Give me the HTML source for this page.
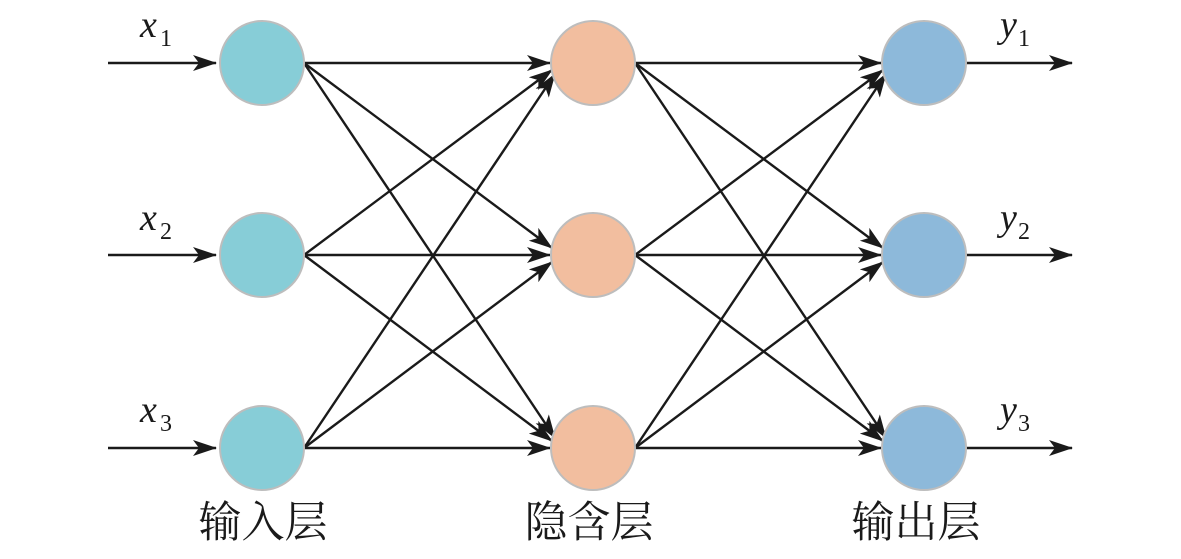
<!DOCTYPE html>
<html><head><meta charset="utf-8"><style>
html,body{margin:0;padding:0;background:#fff;}
</style></head><body>
<svg width="1181" height="554" viewBox="0 0 1181 554" xmlns="http://www.w3.org/2000/svg">
<defs>
<marker id="b" viewBox="0 0 24 16" refX="23" refY="8" markerWidth="24" markerHeight="16" markerUnits="userSpaceOnUse" orient="auto">
<path d="M0,0 L24,8 L0,16 L6,8 Z" fill="#1a1a1a"/>
</marker>
</defs>
<g stroke="#1a1a1a" stroke-width="2.4" fill="none">
<line x1="108" y1="63" x2="216" y2="63" marker-end="url(#b)"/>
<line x1="108" y1="255" x2="216" y2="255" marker-end="url(#b)"/>
<line x1="108" y1="448" x2="216" y2="448" marker-end="url(#b)"/>
<line x1="966" y1="63" x2="1072" y2="63" marker-end="url(#b)"/>
<line x1="966" y1="255" x2="1072" y2="255" marker-end="url(#b)"/>
<line x1="966" y1="448" x2="1072" y2="448" marker-end="url(#b)"/>
<line x1="304" y1="63" x2="550" y2="63" marker-end="url(#b)"/>
<line x1="304" y1="63" x2="552" y2="248" marker-end="url(#b)"/>
<line x1="304" y1="63" x2="555" y2="438" marker-end="url(#b)"/>
<line x1="304" y1="255" x2="552" y2="70" marker-end="url(#b)"/>
<line x1="304" y1="255" x2="550" y2="255" marker-end="url(#b)"/>
<line x1="304" y1="255" x2="552" y2="441" marker-end="url(#b)"/>
<line x1="304" y1="448" x2="555" y2="74" marker-end="url(#b)"/>
<line x1="304" y1="448" x2="552" y2="262" marker-end="url(#b)"/>
<line x1="304" y1="448" x2="550" y2="448" marker-end="url(#b)"/>
<line x1="635" y1="63" x2="881" y2="63" marker-end="url(#b)"/>
<line x1="635" y1="63" x2="883" y2="248" marker-end="url(#b)"/>
<line x1="635" y1="63" x2="886" y2="438" marker-end="url(#b)"/>
<line x1="635" y1="255" x2="883" y2="70" marker-end="url(#b)"/>
<line x1="635" y1="255" x2="881" y2="255" marker-end="url(#b)"/>
<line x1="635" y1="255" x2="883" y2="441" marker-end="url(#b)"/>
<line x1="635" y1="448" x2="886" y2="74" marker-end="url(#b)"/>
<line x1="635" y1="448" x2="883" y2="262" marker-end="url(#b)"/>
<line x1="635" y1="448" x2="881" y2="448" marker-end="url(#b)"/>
</g>
<g stroke="#bdbdbd" stroke-width="2">
<circle cx="262" cy="63" r="42" fill="#87CDD7"/>
<circle cx="262" cy="255" r="42" fill="#87CDD7"/>
<circle cx="262" cy="448" r="42" fill="#87CDD7"/>
<circle cx="593" cy="63" r="42" fill="#F2BE9F"/>
<circle cx="593" cy="255" r="42" fill="#F2BE9F"/>
<circle cx="593" cy="448" r="42" fill="#F2BE9F"/>
<circle cx="924" cy="63" r="42" fill="#8DB9DA"/>
<circle cx="924" cy="255" r="42" fill="#8DB9DA"/>
<circle cx="924" cy="448" r="42" fill="#8DB9DA"/>
</g>
<g font-family="Liberation Serif, serif" fill="#1a1a1a">
<text x="140" y="37" font-size="38" font-style="italic">x</text><text x="160" y="46" font-size="24">1</text>
<text x="140" y="230" font-size="38" font-style="italic">x</text><text x="160" y="239" font-size="24">2</text>
<text x="140" y="422" font-size="38" font-style="italic">x</text><text x="160" y="431" font-size="24">3</text>
<text x="1000" y="37" font-size="38" font-style="italic">y</text><text x="1018" y="46" font-size="24">1</text>
<text x="1000" y="230" font-size="38" font-style="italic">y</text><text x="1018" y="239" font-size="24">2</text>
<text x="1000" y="422" font-size="38" font-style="italic">y</text><text x="1018" y="431" font-size="24">3</text>
</g>
<g font-family="Liberation Serif, Noto Serif CJK SC, serif" font-size="43" fill="#1a1a1a" text-anchor="middle">
<text x="263" y="537">输入层</text>
<text x="589" y="537">隐含层</text>
<text x="916" y="537">输出层</text>
</g>
</svg>
</body></html>
